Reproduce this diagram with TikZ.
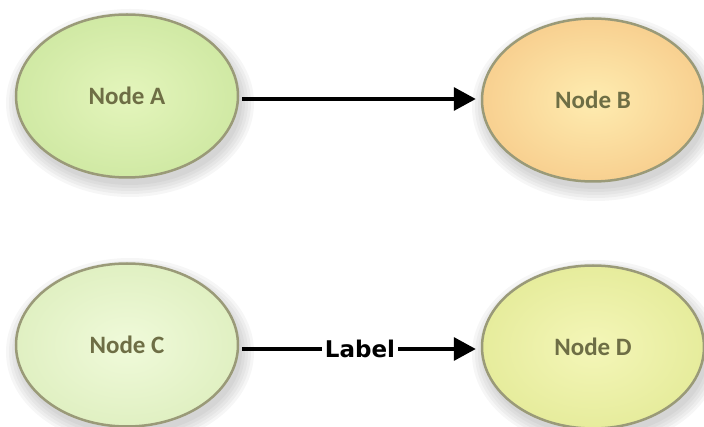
\documentclass[tikz,border=0pt]{standalone}
\usepackage{fontspec}
\setmainfont{Carlito}
\newfontfamily\labelfont{DejaVu Sans}
\usetikzlibrary{arrows.meta,shapes.geometric}
\definecolor{txtcol}{HTML}{6E6E45}
\definecolor{bordcol}{HTML}{9A9A78}
\definecolor{aIn}{HTML}{E4F5BC}
\definecolor{aOut}{HTML}{D0E9A4}
\definecolor{bIn}{HTML}{FEECB0}
\definecolor{bOut}{HTML}{F8D090}
\definecolor{cIn}{HTML}{F0FADA}
\definecolor{cOut}{HTML}{E0F0C2}
\definecolor{dIn}{HTML}{F4F6B8}
\definecolor{dOut}{HTML}{E6EC9C}
\tikzset{
  ell/.style={ellipse, minimum width=222pt, minimum height=163pt, draw=bordcol, line width=2.5pt,
    font=\fontsize{25}{28}\selectfont\bfseries, text=txtcol},
  conn/.style={line width=3.5pt, shorten >=5pt, shorten <=3pt, -{Triangle[length=22pt,width=23pt]}},
}
\begin{document}
\begin{tikzpicture}[x=1pt,y=-1pt]
\useasboundingbox (0,0) rectangle (704,427);
% shadows
\foreach \cx/\cy in {127/96, 593/100, 127/345, 593/347}{
  \foreach \r in {14,11,8,5,2}{
    \fill[black, opacity=0.035] (\cx+3,\cy+7) ellipse ({110+\r} and {80+\r});
  }
}
\node[ell, inner color=aIn, outer color=aOut] (A) at (127,96) {Node A};
\node[ell, inner color=bIn, outer color=bOut] (B) at (593,100) {Node B};
\node[ell, inner color=cIn, outer color=cOut] (C) at (127,345) {Node C};
\node[ell, inner color=dIn, outer color=dOut] (D) at (593,347) {Node D};
\draw[conn] (A.east |- 0,99) -- (B.west |- 0,99);
\draw[conn] (C.east |- 0,349) -- node[fill=white, inner xsep=3pt, font=\labelfont\fontsize{23}{26}\selectfont\bfseries] {Label} (D.west |- 0,349);
\end{tikzpicture}
\end{document}
